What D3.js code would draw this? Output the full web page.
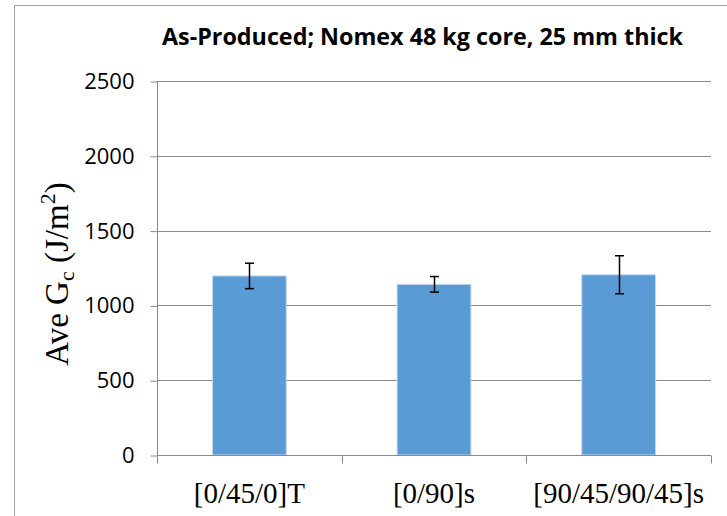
<!DOCTYPE html>
<html>
<head>
<meta charset="utf-8">
<script src="https://cdn.jsdelivr.net/npm/d3@7"></script>
<style>
  html, body { margin: 0; padding: 0; background: #fff; }
  svg { display: block; }
</style>
</head>
<body>
<div id="chart"></div>
<script>
const categories = ["[0/45/0]T", "[0/90]s", "[90/45/90/45]s"];
const aveGc = [1197, 1141, 1205];
const errGc = [85, 52, 127];
const yTicks = [0, 500, 1000, 1500, 2000, 2500];
const titleText = "As-Produced; Nomex 48 kg core, 25 mm thick";

const W = 727, H = 516;
const plot = { left: 157, right: 711, top: 81, bottom: 455 };

const svg = d3.select("#chart").append("svg").attr("width", W).attr("height", H);

// outer chart border
svg.append("rect")
  .attr("x", 14.5).attr("y", 5.5).attr("width", W + 10).attr("height", H + 10)
  .attr("fill", "none").attr("stroke", "#a0a0a0").attr("stroke-width", 1);

const x = d3.scaleBand().domain(categories).range([plot.left, plot.right]).paddingInner(0.6).paddingOuter(0.3);
const xEdges = d3.scaleBand().domain(categories).range([plot.left, plot.right]).padding(0);
const y = d3.scaleLinear().domain([0, 2500]).range([plot.bottom, plot.top]);

// gridlines
svg.append("g").selectAll("line").data(yTicks.filter(d => d > 0)).join("line")
  .attr("x1", plot.left).attr("x2", plot.right)
  .attr("y1", d => Math.round(y(d)) + 0.5).attr("y2", d => Math.round(y(d)) + 0.5)
  .attr("stroke", "#8a8a8a").attr("stroke-width", 1);

// y axis
const yAxis = d3.axisLeft(y).tickValues(yTicks).tickSize(7).tickPadding(16).tickFormat(d3.format("d"));
const gy = svg.append("g").attr("transform", `translate(${plot.left + 0.5},0.5)`).call(yAxis);
gy.select(".domain").attr("stroke", "#8a8a8a").attr("d", `M0,${y(2500)}V${y(0)}`);
gy.selectAll(".tick line").attr("stroke", "#8a8a8a");
gy.selectAll(".tick text").attr("font-family", "'Open Sans', sans-serif").attr("font-size", 22).attr("fill", "#000");

// bars
svg.append("g").selectAll("rect").data(categories).join("rect")
  .attr("x", d => x(d)).attr("width", x.bandwidth())
  .attr("y", (d, i) => y(aveGc[i])).attr("height", (d, i) => y(0) - y(aveGc[i]))
  .attr("fill", "#5B9BD5").attr("stroke", "#c5dbf0").attr("stroke-width", 1);

// x axis
const xAxis = d3.axisBottom(xEdges).tickSize(0).tickPadding(0).tickFormat(() => "");
const gx = svg.append("g").attr("transform", `translate(0,${plot.bottom + 0.5})`).call(xAxis);
gx.select(".domain").attr("stroke", "#8a8a8a").attr("d", `M${plot.left},0H${plot.right}`);
gx.selectAll(".tick").remove();
const edges = categories.map(c => xEdges(c)).concat([plot.right]);
gx.selectAll("line.edge").data(edges).join("line").attr("class", "edge")
  .attr("x1", d => Math.round(d) + 0.5).attr("x2", d => Math.round(d) + 0.5)
  .attr("y1", 0).attr("y2", 8).attr("stroke", "#8a8a8a");
gx.selectAll("text.cat").data(categories).join("text").attr("class", "cat")
  .attr("x", d => xEdges(d) + xEdges.bandwidth() / 2).attr("y", 47)
  .attr("text-anchor", "middle").attr("font-family", "'Liberation Serif', 'Times New Roman', serif")
  .attr("font-size", 29).attr("fill", "#000").text(d => d);

// error bars
const eb = svg.append("g").attr("stroke", "#000").attr("stroke-width", 1.5);
categories.forEach((c, i) => {
  const cx = Math.round(x(c) + x.bandwidth() / 2) + 0.5;
  const yt = y(aveGc[i] + errGc[i]), yb = y(aveGc[i] - errGc[i]);
  eb.append("line").attr("x1", cx).attr("x2", cx).attr("y1", yt).attr("y2", yb);
  eb.append("line").attr("x1", cx - 4.5).attr("x2", cx + 4.5).attr("y1", yt).attr("y2", yt);
  eb.append("line").attr("x1", cx - 4.5).attr("x2", cx + 4.5).attr("y1", yb).attr("y2", yb);
});

// title
svg.append("text").attr("x", 162).attr("y", 45)
  .attr("font-family", "'Open Sans', sans-serif").attr("font-weight", "bold").attr("font-size", 23)
  .attr("textLength", 521).attr("lengthAdjust", "spacingAndGlyphs")
  .attr("fill", "#000").text(titleText);

// y axis title
const yt = svg.append("text").attr("transform", "translate(68,274) rotate(-90)")
  .attr("text-anchor", "middle").attr("font-family", "'Liberation Serif', 'Times New Roman', serif")
  .attr("font-size", 33).attr("fill", "#000");
yt.append("tspan").text("Ave G");
yt.append("tspan").attr("font-size", 22).attr("dy", 6).text("c");
yt.append("tspan").attr("dy", -6).text(" (J/m");
yt.append("tspan").attr("font-size", 22).attr("dy", -13).text("2");
yt.append("tspan").attr("dy", 13).text(")");
</script>
</body>
</html>
